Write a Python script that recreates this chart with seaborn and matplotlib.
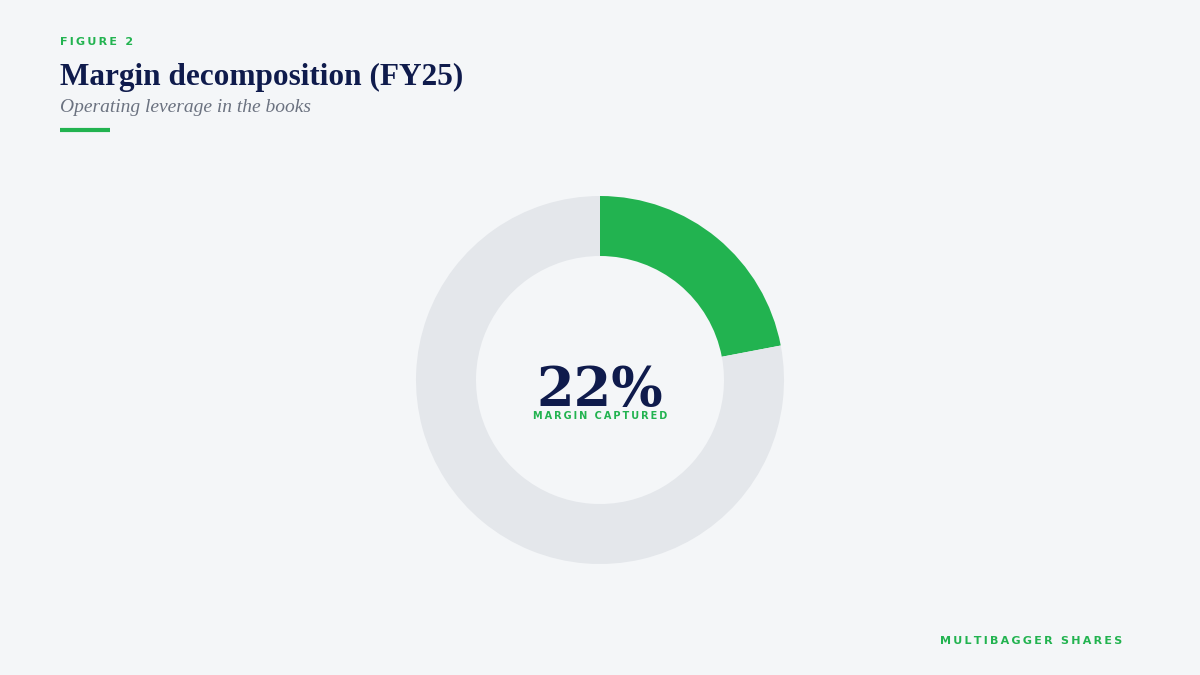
import matplotlib
matplotlib.use("Agg")
import matplotlib.pyplot as plt
import seaborn as sns

# data
labels = ["Margin captured", "Remainder"]
shares = [22, 78]
headline = "22%"

bg = "#f4f6f8"
green = "#22b350"
navy = "#0f1b4c"
ring_grey = "#e4e7eb"
sub_grey = "#6b7280"

sns.set_theme(style="white")
plt.rcParams["font.family"] = ["DejaVu Sans"]


def spaced(s, gap="\u2009"):
    # fake letter spacing
    return gap.join(s)


fig = plt.figure(figsize=(12, 6.75), dpi=100, facecolor=bg)

# header texts
fig.text(60 / 1200, 1 - 45 / 675, spaced("FIGURE 2"), color=green, fontsize=8,
         fontweight="bold", va="baseline", ha="left")
fig.text(60 / 1200, 1 - 85 / 675, "Margin decomposition (FY25)", color=navy,
         fontsize=22.5, fontweight="bold", family="Liberation Serif", va="baseline", ha="left")
fig.text(60 / 1200, 1 - 112 / 675, "Operating leverage in the books", color=sub_grey,
         fontsize=14, style="italic", family="Liberation Serif", va="baseline", ha="left")
fig.add_artist(plt.Line2D([60 / 1200, 110 / 1200], [1 - 129.5 / 675, 1 - 129.5 / 675],
                          color=green, linewidth=3, solid_capstyle="butt"))

# donut
cx, cy, box = 600, 380, 400
ax = fig.add_axes([(cx - box / 2) / 1200, (675 - cy - box / 2) / 675, box / 1200, box / 675])
ax.set_facecolor(bg)
ax.pie(shares, colors=[green, ring_grey], startangle=90, counterclock=False,
       radius=184 / 200, wedgeprops=dict(width=60 / 200, linewidth=0))
ax.set_xlim(-1, 1)
ax.set_ylim(-1, 1)
ax.set_aspect("equal")
ax.axis("off")

ax.text(0, -(406 - cy) / 200, headline, color=navy, fontsize=39, fontweight="bold",
        family="DejaVu Serif", ha="center", va="baseline")
ax.text(0, -(419 - cy) / 200, spaced("MARGIN CAPTURED"), color=green,
        fontsize=7, fontweight="bold", ha="center", va="baseline")

# footer
fig.text(1122 / 1200, 1 - 644 / 675, spaced("MULTIBAGGER SHARES"), color=green, fontsize=8,
         fontweight="bold", va="baseline", ha="right")

fig.savefig("out.png", dpi=100, facecolor=bg)
